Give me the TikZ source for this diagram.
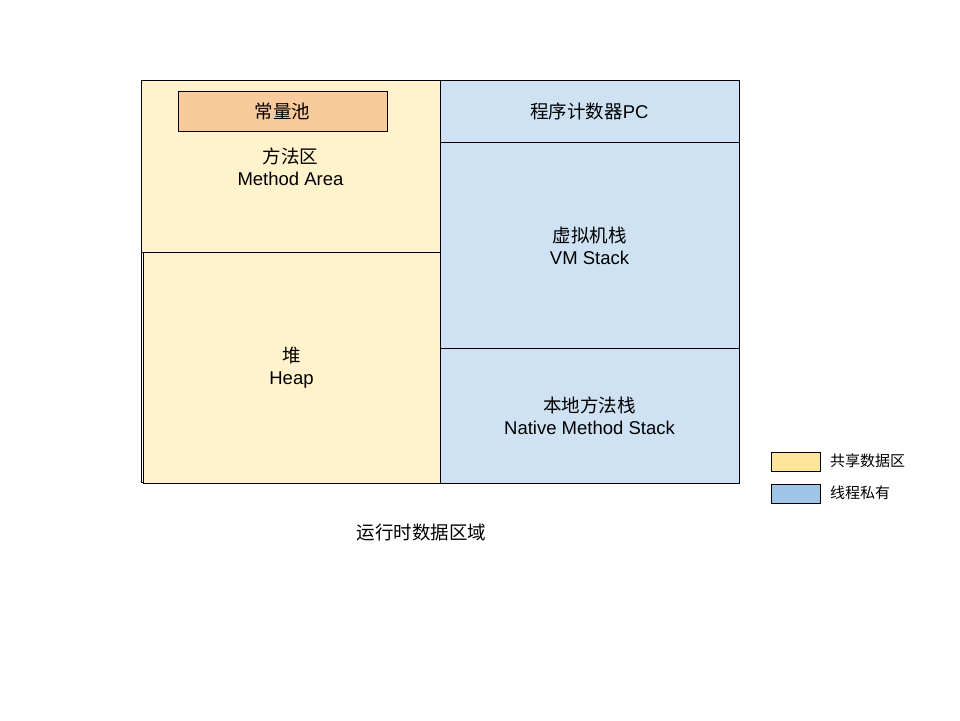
\documentclass[tikz,border=0pt]{standalone}
\usepackage{fontspec}
\setmainfont{Liberation Sans}
\newfontfamily\cjk{Noto Sans CJK SC}
\definecolor{shared}{HTML}{FFF2CC}
\definecolor{private}{HTML}{CFE2F3}
\definecolor{pool}{HTML}{F9CB9C}
\definecolor{legshared}{HTML}{FFE599}
\definecolor{legprivate}{HTML}{9FC5E8}
\begin{document}
\begin{tikzpicture}[x=1pt,y=-1pt,
  area/.style={draw=black,line width=0.8pt},
  lbl/.style={align=center,font=\fontsize{18.5}{22}\selectfont,inner sep=0pt},
  leg/.style={font=\cjk\fontsize{15}{18}\selectfont,anchor=west,inner sep=0pt}]
\useasboundingbox (0,0) rectangle (960,720);
% outer left edge
\draw[area] (141,252) -- (141,482) -- (440,482);
\fill[shared,area] (141,80) rectangle (440,252);
\fill[shared,area] (143,252) rectangle (440,483);
\fill[private,area] (440,80) rectangle (739,142);
\fill[private,area] (440,142) rectangle (739,348);
\fill[private,area] (440,348) rectangle (739,483);
\node[fill=pool,draw=black,line width=0.8pt,minimum width=209pt,minimum height=40pt,inner sep=0pt,font=\cjk\fontsize{18.5}{22}\selectfont] (pool) at (282.5,111) {常量池};
\node[lbl] (method) at (290.5,167) {{\cjk 方法区}\\Method Area};
\node[lbl] (heap) at (291.5,368) {{\cjk 堆}\\Heap};
\node[lbl] (pc) at (589.5,111) {{\cjk 程序计数器}PC};
\node[lbl] (vm) at (589.5,246) {{\cjk 虚拟机栈}\\VM Stack};
\node[lbl] (native) at (589.5,416) {{\cjk 本地方法栈}\\Native Method Stack};
\node[lbl,font=\cjk\fontsize{18.5}{22}\selectfont] (title) at (421.5,532) {运行时数据区域};
\node[draw=black,line width=0.8pt,fill=legshared,minimum width=49pt,minimum height=19pt,inner sep=0pt] (ls) at (795.5,461.5) {};
\node[draw=black,line width=0.8pt,fill=legprivate,minimum width=49pt,minimum height=19pt,inner sep=0pt] (lp) at (795.5,493.5) {};
\node[leg] (lst) at (830,461) {共享数据区};
\node[leg] (lpt) at (830,493) {线程私有};
\end{tikzpicture}
\end{document}
